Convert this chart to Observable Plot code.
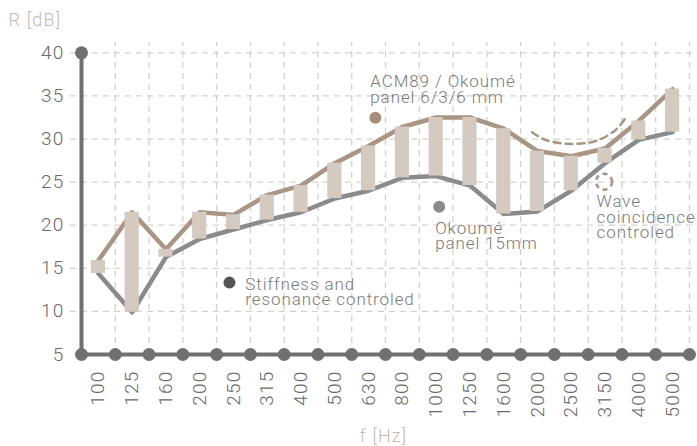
<!DOCTYPE html>
<html>
<head>
<meta charset="utf-8">
<script src="https://cdn.jsdelivr.net/npm/d3@7"></script>
<script src="https://cdn.jsdelivr.net/npm/@observablehq/plot@0.6"></script>
<style>
  html, body { margin: 0; padding: 0; background: #ffffff; }
  #chart svg { font-family: "Roboto Light", Roboto, "Noto Sans", sans-serif; font-weight: 300; letter-spacing: 1.2px; }
  #chart svg g.notes text { letter-spacing: 0.9px; }
</style>
</head>
<body>
<div id="chart"></div>
<script>
// ---- data ----
const frequencies = ["100","125","160","200","250","315","400","500","630","800","1000","1250","1600","2000","2500","3150","4000","5000"];
const acm89 = [15.9, 21.5, 17.2, 21.5, 21.2, 23.5, 24.6, 27.2, 29.2, 31.4, 32.5, 32.5, 31.2, 28.6, 28.0, 28.9, 32.1, 35.8];
const okoume15 = [14.4, 9.9, 16.3, 18.4, 19.5, 20.6, 21.5, 23.1, 24.0, 25.5, 25.7, 24.6, 21.3, 21.6, 24.0, 27.2, 29.9, 30.8];
const yTicks = [5, 10, 15, 20, 25, 30, 35, 40];
// dashed arc (wave coincidence), in band-index / dB units
const coincidenceArc = [
  {x: 13.34, y: 30.8}, {x: 13.7, y: 29.95}, {x: 14.38, y: 29.45},
  {x: 15.2, y: 29.75}, {x: 15.8, y: 31.0}, {x: 16.1, y: 32.4}
];
// annotations
const notes = [
  {x: 4.85, y: 13.8, text: "Stiffness and\nresonance controled"},
  {x: 8.55, y: 37.3, text: "ACM89 / Okoumé\npanel 6/3/6 mm"},
  {x: 10.47, y: 20.3, text: "Okoumé\npanel 15mm"},
  {x: 15.25, y: 23.4, text: "Wave\ncoincidence\ncontroled"}
];
const noteDots = [
  {x: 4.38, y: 13.34, fill: "#555555"},
  {x: 8.7, y: 32.46, fill: "#a58f7c"},
  {x: 10.59, y: 22.15, fill: "#8a8a8a"}
];
const noteRing = [{x: 15.47, y: 25.05}];

// ---- table ----
const rows = frequencies.map((f, i) => ({f, i, c: i + 0.5, acm: acm89[i], ok: okoume15[i]}));
const n = frequencies.length;
const edges = d3.range(0, n + 1);

const gridColor = "#dacfc6";
const axisColor = "#707070";
const barColor = "#d4cac0";
const brown = "#a89583";
const grey = "#8b8b8b";
const textColor = "#7a7a7a";
const titleColor = "#c7b9ac";
const halfBar = 0.21;

const chart = Plot.plot({
  width: 697,
  height: 446,
  marginLeft: 81,
  marginRight: 8,
  marginTop: 42,
  marginBottom: 92,
  x: {type: "linear", domain: [0, n], axis: null},
  y: {type: "linear", domain: [5, 41.2], axis: null},
  marks: [
    // grid
    Plot.ruleY(yTicks.slice(1), {x1: -0.33, x2: n + 0.25, stroke: gridColor, strokeWidth: 1.3, strokeDasharray: "6,5"}),
    Plot.ruleX(edges.slice(1), {y1: 5, y2: 41.2, stroke: gridColor, strokeWidth: 1.3, strokeDasharray: "6,5"}),
    // series lines
    Plot.line(rows, {x: "c", y: "ok", stroke: grey, strokeWidth: 4.5}),
    Plot.line(rows, {x: "c", y: "acm", stroke: brown, strokeWidth: 4.5}),
    // range bars
    Plot.rect(rows, {x1: d => d.c - halfBar, x2: d => d.c + halfBar, y1: "ok", y2: "acm", fill: barColor}),
    // dashed arc
    Plot.line(coincidenceArc, {x: "x", y: "y", curve: "catmull-rom", stroke: brown, strokeWidth: 2.5, strokeDasharray: "7,5"}),
    // axes
    Plot.ruleX([0], {y1: 5, y2: 40, stroke: axisColor, strokeWidth: 4}),
    Plot.ruleY([5], {x1: 0, x2: n, stroke: axisColor, strokeWidth: 4}),
    Plot.dot(edges, {x: d => d, y: 5, r: 6.5, fill: axisColor}),
    Plot.dot([40], {x: 0, y: d => d, r: 6.5, fill: axisColor}),
    // tick labels
    Plot.text(yTicks, {x: 0, y: d => d, text: d => String(d), textAnchor: "end", dx: -17, fontSize: 19, fill: "#6a6a6a"}),
    Plot.text(rows, {x: "c", y: 5, text: "f", rotate: -90, textAnchor: "end", dy: 16, fontSize: 19, fill: "#6a6a6a"}),
    // axis titles
    Plot.text(["R [dB]"], {frameAnchor: "top-left", dx: -73, dy: -29, lineAnchor: "top", textAnchor: "start", fontSize: 18, fill: titleColor}),
    Plot.text(["f [Hz]"], {frameAnchor: "bottom", dx: -2, dy: 75, lineAnchor: "top", fontSize: 18, fill: titleColor}),
    // annotations
    Plot.dot(noteDots, {x: "x", y: "y", r: 6, fill: "fill"}),
    Plot.dot(noteRing, {x: "x", y: "y", r: 8, stroke: brown, strokeWidth: 2.5, strokeDasharray: "5,4", fill: "none"}),
    Plot.text(notes, {x: "x", y: "y", text: "text", textAnchor: "start", lineAnchor: "top", lineHeight: 0.92, fontSize: 17, fill: textColor, className: "notes"})
  ]
});
document.getElementById("chart").appendChild(chart);
</script>
</body>
</html>
